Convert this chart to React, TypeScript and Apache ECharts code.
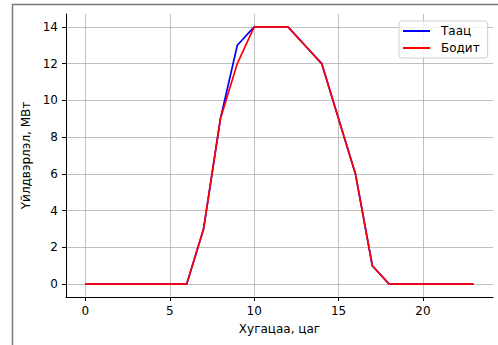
import React, { useEffect, useRef } from "react";
import * as echarts from "echarts";

const hours = [0, 1, 2, 3, 4, 5, 6, 7, 8, 9, 10, 11, 12, 13, 14, 15, 16, 17, 18, 19, 20, 21, 22, 23];
const forecast = [0, 0, 0, 0, 0, 0, 0, 3, 9, 13, 14, 14, 14, 13, 12, 9, 6, 1, 0, 0, 0, 0, 0, 0];
const actual = [0, 0, 0, 0, 0, 0, 0, 3, 9, 12, 14, 14, 14, 13, 12, 9, 6, 1, 0, 0, 0, 0, 0, 0];
const xTicks = [0, 5, 10, 15, 20];
const yTicks = [0, 2, 4, 6, 8, 10, 12, 14];
const seriesNames = ["Таац", "Бодит"];
const xName = "Хугацаа, цаг";
const yName = "Үйлдвэрлэл, МВт";

const FONT = "DejaVu Sans";
const FS = 12;

export default function App() {
  const ref = useRef<HTMLDivElement>(null);
  useEffect(() => {
    if (!ref.current) return;
    const chart = echarts.init(ref.current, undefined, { renderer: "svg" });
    const axisCommon = {
      type: "value" as const,
      axisLine: { show: true, onZero: false, lineStyle: { color: "#000", width: 1 } },
      axisTick: { show: true, inside: false, length: 4, lineStyle: { color: "#000", width: 1 } },
      splitLine: { show: true, lineStyle: { color: "#b0b0b0", width: 0.8 } },
      nameLocation: "middle" as const,
      nameTextStyle: { fontFamily: FONT, fontSize: FS, color: "#000" },
    };
    chart.setOption({
      animation: false,
      backgroundColor: "#fff",
      grid: { left: 66, top: 14, right: 5, bottom: 48, containLabel: false },
      xAxis: {
        ...axisCommon,
        min: -1.15,
        max: 24.15,
        name: xName,
        nameGap: 26,
        axisTick: { ...axisCommon.axisTick, customValues: xTicks },
        axisLabel: { customValues: xTicks, margin: 8, fontFamily: FONT, fontSize: FS, color: "#000" },
      },
      yAxis: {
        ...axisCommon,
        min: -0.7,
        max: 14.7,
        name: yName,
        nameGap: 30,
        nameRotate: 90,
        axisTick: { ...axisCommon.axisTick, customValues: yTicks },
        axisLabel: { customValues: yTicks, margin: 8, fontFamily: FONT, fontSize: FS, color: "#000" },
      },
      legend: {
        show: true,
        orient: "vertical",
        left: 399,
        top: 21,
        padding: [4, 8, 4, 4],
        itemGap: 5,
        itemWidth: 27,
        itemHeight: 2,
        icon: "rect",
        borderColor: "#d0d0d0",
        borderWidth: 1,
        borderRadius: 3,
        backgroundColor: "rgba(255,255,255,0.8)",
        textStyle: { fontFamily: FONT, fontSize: FS, color: "#000", padding: [0, 0, 0, 6] },
        data: seriesNames,
      },
      graphic: [
        { type: "line", shape: { x1: 12, y1: 4.5, x2: 498, y2: 4.5 }, style: { stroke: "#7a7a7a", lineWidth: 1.5 } },
        { type: "line", shape: { x1: 12.5, y1: 4, x2: 12.5, y2: 345 }, style: { stroke: "#7a7a7a", lineWidth: 1.5 } },
      ],
      series: [
        {
          name: seriesNames[0],
          type: "line",
          data: hours.map((h, i) => [h, forecast[i]]),
          showSymbol: false,
          symbol: "none",
          lineStyle: { color: "#0000ff", width: 1.7 },
          itemStyle: { color: "#0000ff" },
          z: 2,
        },
        {
          name: seriesNames[1],
          type: "line",
          data: hours.map((h, i) => [h, actual[i]]),
          showSymbol: false,
          symbol: "none",
          lineStyle: { color: "#ff0000", width: 1.7 },
          itemStyle: { color: "#ff0000" },
          z: 3,
        },
      ],
    });
    return () => chart.dispose();
  }, []);
  return (
    <div
      ref={ref}
      style={{ position: "absolute", left: 0, top: 0, width: 498, height: 345 }}
    />
  );
}
